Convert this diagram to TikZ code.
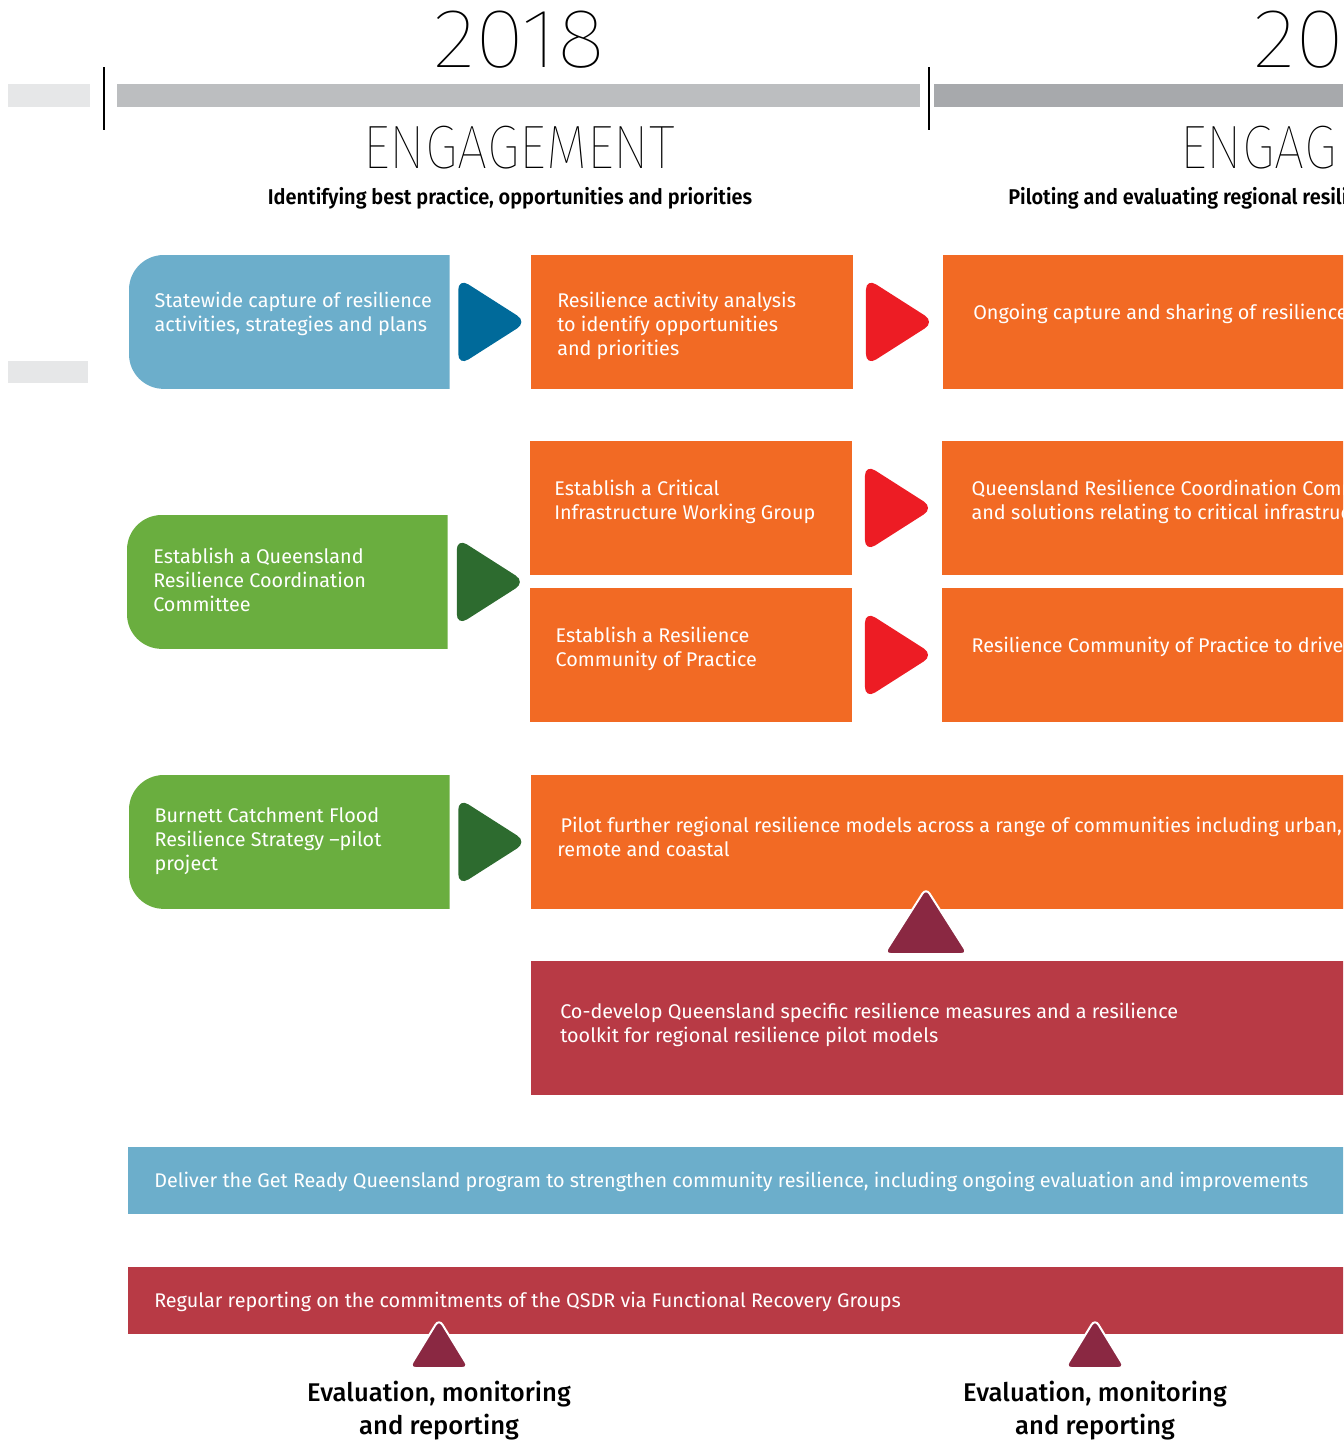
\documentclass[tikz,border=0pt]{standalone}
\usepackage{fontspec}
\setmainfont{Fira Sans}
\newfontfamily\yearFont{Fira Sans Thin}[FakeStretch=1.08]
\newfontfamily\phaseFont{Fira Sans Thin}[FakeStretch=0.875]
\newfontfamily\semiFont{Fira Sans SemiBold}[FakeStretch=0.935]
\newfontfamily\mediumFont{Fira Sans Medium}
\usetikzlibrary{positioning,calc,backgrounds}
\definecolor{cPaleGrey}{HTML}{E6E7E8}
\definecolor{cBarGrey}{HTML}{BCBEC0}
\definecolor{cBarDark}{HTML}{A7A9AC}
\definecolor{cLtBlue}{HTML}{6CAECB}
\definecolor{cDkBlue}{HTML}{006A9A}
\definecolor{cOrange}{HTML}{F26A24}
\definecolor{cRed}{HTML}{ED1C24}
\definecolor{cGreen}{HTML}{6AAE3F}
\definecolor{cDkGreen}{HTML}{2D6B2F}
\definecolor{cMaroon}{HTML}{8A2842}
\definecolor{cCrimson}{HTML}{B83A45}

\begin{document}
\begin{tikzpicture}
[x=0.75pt,y=-0.75pt,%
  boxShape/.style={rectangle,anchor=north west,inner sep=0pt,minimum height=100pt},%
  leftBox/.style={boxShape,minimum width=240pt},%
  midBox/.style={boxShape,fill=cOrange,minimum width=241pt},%
  farBox/.style={boxShape,fill=cOrange,minimum width=378pt},%
  wideBox/.style={boxShape,minimum width=678pt},%
  barBox/.style={boxShape,minimum height=50pt,minimum width=968pt},%
  boxLabel/.style={text=white,font=\fontsize{14.85}{18}\selectfont,align=left,inner sep=0pt,anchor=north west},%
  upTri/.style={fill=cMaroon,draw=white,line width=1.5pt,rounded corners=5pt},%
  evalLabel/.style={font=\mediumFont\fontsize{19.2}{24.75}\selectfont,align=center,anchor=north,inner sep=0pt}]
\useasboundingbox (0,0) rectangle (1343,1443);
\clip (0,0) rectangle (1343,1443);
%% timeline header
\fill[cPaleGrey] (8,84) rectangle (90,107);
\fill[cPaleGrey] (8,361) rectangle (88,383);
\fill[cBarGrey] (117,84) rectangle (920,107);
\fill[cBarDark] (934,84) rectangle (1343,107);
\draw[line width=1.5pt] (104,67) -- (104,130);
\draw[line width=1.5pt] (929,67) -- (929,130);
\node[font=\yearFont\fontsize{63}{63}\selectfont,inner sep=0pt] (yearA) at (519,40) {2018};
\node[font=\yearFont\fontsize{63}{63}\selectfont,inner sep=0pt,anchor=west] (yearB) at (1253,40) {20};
\node[font=\phaseFont\fontsize{46}{46}\selectfont,inner sep=0pt] (phaseA) at (519,148) {ENGAGEMENT};
\node[font=\phaseFont\fontsize{46}{46}\selectfont,inner sep=0pt,anchor=west] (phaseB) at (1180,148) {ENGAG};
\node[font=\semiFont\fontsize{16}{18}\selectfont,inner sep=0pt,anchor=base] (aimA) at (510,204) {Identifying best practice, opportunities and priorities};
\node[font=\semiFont\fontsize{16}{18}\selectfont,inner sep=0pt,anchor=base west] (aimB) at (1008,204) {Piloting and evaluating regional resilience};
%% boxes
\node[leftBox] (capture) at (129,255) {};
\node[midBox] (analysis) at (531,255) {};
\node[farBox] (ongoing) at (943,255) {};
\node[leftBox] (committee) at (127,515) {};
\node[midBox] (critical) at (530,441) {};
\node[farBox] (coordination) at (942,441) {};
\node[midBox] (practice) at (530,588) {};
\node[farBox] (drive) at (942,588) {};
\node[leftBox] (burnett) at (129,775) {};
\node[wideBox,fill=cOrange] (pilot) at (531,775) {};
\node[wideBox,fill=cCrimson] (codevelop) at (531,961) {};
\node[barBox,fill=cLtBlue] (getready) at (128,1147) {};
\node[barBox,fill=cCrimson] (reporting) at (128,1267) {};
%% rounded left ends
\begin{scope}[on background layer]
\foreach \boxname/\boxcolor in {capture/cLtBlue, committee/cGreen, burnett/cGreen}
{
  \fill[\boxcolor] (\boxname.north east) -- ([xshift=26pt]\boxname.north west)
    arc[start angle=90,end angle=180,radius=26pt] -- ([yshift=26pt]\boxname.south west)
    arc[start angle=180,end angle=270,radius=26pt] -- (\boxname.south east) -- cycle;
}
\end{scope}
%% box texts
\node[boxLabel,below right=27.75pt and 19pt of capture.north west] (captureText) {Statewide capture of resilience\\activities, strategies and plans};
\node[boxLabel,below right=27.75pt and 19.5pt of analysis.north west] (analysisText) {Resilience activity analysis\\to identify opportunities\\and priorities};
\node[boxLabel,below right=36.75pt and 22.5pt of ongoing.north west] (ongoingText) {Ongoing capture and sharing of resilience};
\node[boxLabel,below right=24.75pt and 19.5pt of committee.north west] (committeeText) {Establish a Queensland\\Resilience Coordination\\Committee};
\node[boxLabel,below right=29.25pt and 18pt of critical.north west] (criticalText) {Establish a Critical\\Infrastructure Working Group};
\node[boxLabel,below right=29.25pt and 22pt of coordination.north west] (coordinationText) {Queensland Resilience Coordination Committee\\and solutions relating to critical infrastructure};
\node[boxLabel,below right=29.25pt and 19pt of practice.north west] (practiceText) {Establish a Resilience\\Community of Practice};
\node[boxLabel,below right=36.75pt and 22pt of drive.north west] (driveText) {Resilience Community of Practice to drive};
\node[boxLabel,below right=24pt and 19pt of burnett.north west] (burnettText) {Burnett Catchment Flood\\Resilience Strategy --pilot\\project};
\node[boxLabel,below right=31.5pt and 19.5pt of pilot.north west] (pilotText) {\,Pilot further regional resilience models across a range of communities including urban,\\remote and coastal};
\node[boxLabel,below right=31.5pt and 21.75pt of codevelop.north west] (codevelopText) {Co-develop Queensland specific resilience measures and a resilience\\toolkit for regional resilience pilot models};
\node[boxLabel,below right=18.75pt and 19.5pt of getready.north west] (getreadyText) {Deliver the Get Ready Queensland program to strengthen community resilience, including ongoing evaluation and improvements};
\node[boxLabel,below right=18.75pt and 19.5pt of reporting.north west] (reportingText) {Regular reporting on the commitments of the QSDR via Functional Recovery Groups};
%% arrow heads between boxes
\foreach \fromname/\toname/\tricolor in {capture/analysis/cDkBlue, analysis/ongoing/cRed,
  critical/coordination/cRed, practice/drive/cRed, burnett/pilot/cDkGreen}
{
  \fill[\tricolor,rounded corners=9pt] ($(\fromname.east)!0.5!(\toname.west)$)
    +(-32,-44) -- +(-32,44) -- +(37,0) -- cycle;
}
\fill[cDkGreen,rounded corners=9pt] ($(committee.east)!0.5!(committee.east -| critical.west)$)
  +(-32,-44) -- +(-32,44) -- +(37,0) -- cycle;
%% evaluation markers
\coordinate (feed) at (926,924);
\coordinate (evalTriA) at (439,1347);
\coordinate (evalTriB) at (1095,1347);
\filldraw[upTri] (feed) +(-42,30) -- +(42,30) -- +(0,-36) -- cycle;
\foreach \pt in {evalTriA, evalTriB}
  \filldraw[upTri] (\pt) +(-30,21) -- +(30,21) -- +(0,-28) -- cycle;
\node[evalLabel] (evalA) at (439,1381) {Evaluation, monitoring\\and reporting};
\node[evalLabel] (evalB) at (1095,1381) {Evaluation, monitoring\\and reporting};
\end{tikzpicture}
\end{document}
